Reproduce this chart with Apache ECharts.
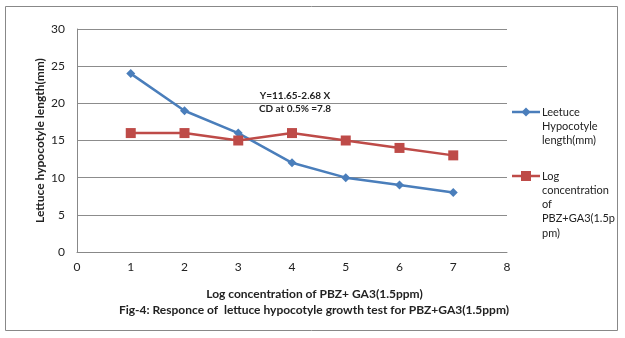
<!DOCTYPE html>
<html><head><meta charset="utf-8">
<script src="https://cdn.jsdelivr.net/npm/echarts@6/dist/echarts.min.js"></script>
<style>html,body{margin:0;padding:0;background:#fff}#c{width:625px;height:338px}</style>
</head><body><div id="c"></div>
<script>
const xValues = [1, 2, 3, 4, 5, 6, 7];
const hypocotyleLength = [24, 19, 16, 12, 10, 9, 8];
const logConcentration = [16, 16, 15, 16, 15, 14, 13];
const seriesNames = ['Leetuce\nHypocotyle\nlength(mm)', 'Log\nconcentration\nof\nPBZ+GA3(1.5p\npm)'];
const annotation = ['Y=11.65-2.68 X', 'CD at 0.5% =7.8'];
const xAxisTitle = 'Log concentration of PBZ+ GA3(1.5ppm)';
const caption = 'Fig-4: Responce of  lettuce hypocotyle growth test for PBZ+GA3(1.5ppm)';
const yAxisTitle = 'Lettuce hypocotyle length(mm)';

const FONT = 'Lato';
const BLUE = '#4a7ebb', RED = '#be4b48';
const chart = echarts.init(document.getElementById('c'), null, {renderer: 'canvas'});
const pairs = a => xValues.map((x, i) => [x, a[i]]);
const LH = 14.3;
function legendGraphic(name, color, symbol, y) {
  const sym = symbol === 'diamond'
    ? {type: 'polygon', shape: {points: [[526, y - 4.5], [530.5, y], [526, y + 4.5], [521.5, y]]}, style: {fill: color}}
    : {type: 'rect', shape: {x: 521, y: y - 5, width: 10, height: 10}, style: {fill: color}};
  return [
    {type: 'line', shape: {x1: 512, y1: y, x2: 540, y2: y}, style: {stroke: color, lineWidth: 2.5}},
    sym,
    {type: 'text', style: {text: name, x: 542, y: y - LH / 2, align: 'left', verticalAlign: 'top',
      font: '11px ' + FONT, lineHeight: LH, fill: '#222'}}
  ];
}
chart.setOption({
  animation: false,
  textStyle: {fontFamily: FONT},
  grid: {left: 77, right: 118, top: 29, bottom: 86},
  legend: {show: false, data: seriesNames},
  xAxis: {
    type: 'value', min: 0, max: 8, interval: 1,
    name: xAxisTitle, nameLocation: 'middle', nameGap: 36,
    nameTextStyle: {fontFamily: FONT, fontWeight: 'bold', fontSize: 12, color: '#222', padding: [0, 0, 0, 45]},
    axisLine: {lineStyle: {color: '#888'}}, axisTick: {show: false},
    splitLine: {show: false},
    axisLabel: {fontFamily: FONT, fontSize: 12, color: '#222', margin: 9}
  },
  yAxis: {
    type: 'value', min: 0, max: 30, interval: 5,
    name: yAxisTitle, nameLocation: 'middle', nameGap: 31, nameMoveOverlap: false,
    nameTextStyle: {fontFamily: FONT, fontWeight: 'bold', fontSize: 12, color: '#222'},
    axisLine: {show: true, lineStyle: {color: '#888'}}, axisTick: {show: false},
    splitLine: {lineStyle: {color: '#8c8c8c'}},
    axisLabel: {fontFamily: FONT, fontSize: 12, color: '#222', margin: 12}
  },
  graphic: [
    {type: 'rect', shape: {x: 5.5, y: 6.5, width: 612, height: 324}, style: {fill: 'none', stroke: '#888', lineWidth: 1}, silent: true},
    {type: 'text', style: {text: annotation[0], x: 295, y: 96, align: 'center', verticalAlign: 'middle', font: 'bold 10px ' + FONT, fill: '#222'}},
    {type: 'text', style: {text: annotation[1], x: 295, y: 109, align: 'center', verticalAlign: 'middle', font: 'bold 10px ' + FONT, fill: '#222'}},
    {type: 'text', style: {text: caption, x: 314, y: 310, align: 'center', verticalAlign: 'middle', font: 'bold 12px ' + FONT, fill: '#222'}},
    ...legendGraphic(seriesNames[0], BLUE, 'diamond', 112),
    ...legendGraphic(seriesNames[1], RED, 'rect', 176)
  ],
  series: [
    {name: seriesNames[0], type: 'line', data: pairs(hypocotyleLength), symbol: 'diamond', symbolSize: 9,
     lineStyle: {color: BLUE, width: 2.5}, itemStyle: {color: BLUE}},
    {name: seriesNames[1], type: 'line', data: pairs(logConcentration), symbol: 'rect', symbolSize: 10,
     lineStyle: {color: RED, width: 2.5}, itemStyle: {color: RED}}
  ]
});
</script></body></html>
